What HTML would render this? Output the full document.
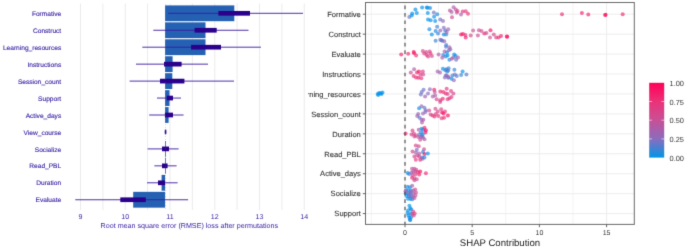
<!DOCTYPE html>
<html><head><meta charset="utf-8"><style>
html,body{margin:0;padding:0;background:#fff;width:685px;height:250px;overflow:hidden}
svg{display:block;font-family:"Liberation Sans",sans-serif;will-change:transform;text-rendering:geometricPrecision}
</style></head><body>
<svg width="685" height="250" viewBox="0 0 685 250">
<filter id="bl" x="0" y="0" width="685" height="250" filterUnits="userSpaceOnUse" color-interpolation-filters="sRGB"><feConvolveMatrix order="3" kernelMatrix="0.01134 0.08382 0.01134 0.08382 0.61935 0.08382 0.01134 0.08382 0.01134" edgeMode="duplicate"/></filter>
<g filter="url(#bl)"><rect width="685" height="250" fill="#fff"/>
<line x1="80.50" y1="3.5" x2="80.50" y2="210" stroke="#e6e6e6" stroke-width="0.8"/>
<line x1="102.88" y1="3.5" x2="102.88" y2="210" stroke="#e6e6e6" stroke-width="0.8"/>
<line x1="125.25" y1="3.5" x2="125.25" y2="210" stroke="#e6e6e6" stroke-width="0.8"/>
<line x1="147.62" y1="3.5" x2="147.62" y2="210" stroke="#e6e6e6" stroke-width="0.8"/>
<line x1="170.00" y1="3.5" x2="170.00" y2="210" stroke="#e6e6e6" stroke-width="0.8"/>
<line x1="192.38" y1="3.5" x2="192.38" y2="210" stroke="#e6e6e6" stroke-width="0.8"/>
<line x1="214.75" y1="3.5" x2="214.75" y2="210" stroke="#e6e6e6" stroke-width="0.8"/>
<line x1="237.12" y1="3.5" x2="237.12" y2="210" stroke="#e6e6e6" stroke-width="0.8"/>
<line x1="259.50" y1="3.5" x2="259.50" y2="210" stroke="#e6e6e6" stroke-width="0.8"/>
<line x1="281.88" y1="3.5" x2="281.88" y2="210" stroke="#e6e6e6" stroke-width="0.8"/>
<line x1="304.25" y1="3.5" x2="304.25" y2="210" stroke="#e6e6e6" stroke-width="0.8"/>
<rect x="165.10" y="5.40" width="69.20" height="15.8" fill="#2561b3"/>
<rect x="165.10" y="22.35" width="40.40" height="15.8" fill="#2561b3"/>
<rect x="165.10" y="39.30" width="40.40" height="15.8" fill="#2561b3"/>
<rect x="165.10" y="56.25" width="7.50" height="15.8" fill="#2561b3"/>
<rect x="165.10" y="73.20" width="7.20" height="15.8" fill="#2561b3"/>
<rect x="165.10" y="90.15" width="4.40" height="15.8" fill="#2561b3"/>
<rect x="165.10" y="107.10" width="3.50" height="15.8" fill="#2561b3"/>
<rect x="165.10" y="141.00" width="0.80" height="15.8" fill="#2561b3"/>
<rect x="165.10" y="157.95" width="0.80" height="15.8" fill="#2561b3"/>
<rect x="161.60" y="174.90" width="3.50" height="15.8" fill="#2561b3"/>
<rect x="133.20" y="191.85" width="31.90" height="15.8" fill="#2561b3"/>
<line x1="168.2" y1="13.30" x2="303.0" y2="13.30" stroke="#3a1aa0" stroke-width="0.9"/>
<rect x="218.4" y="10.95" width="31.60" height="4.7" fill="#2a008c"/>
<line x1="153.3" y1="30.25" x2="248.5" y2="30.25" stroke="#3a1aa0" stroke-width="0.9"/>
<rect x="194.6" y="27.90" width="22.10" height="4.7" fill="#2a008c"/>
<line x1="142.3" y1="47.20" x2="260.9" y2="47.20" stroke="#3a1aa0" stroke-width="0.9"/>
<rect x="191.1" y="44.85" width="29.90" height="4.7" fill="#2a008c"/>
<line x1="136.0" y1="64.15" x2="208.0" y2="64.15" stroke="#3a1aa0" stroke-width="0.9"/>
<rect x="164.0" y="61.80" width="17.60" height="4.7" fill="#2a008c"/>
<line x1="129.6" y1="81.10" x2="234.0" y2="81.10" stroke="#3a1aa0" stroke-width="0.9"/>
<rect x="160.0" y="78.75" width="24.40" height="4.7" fill="#2a008c"/>
<line x1="157.0" y1="98.05" x2="181.0" y2="98.05" stroke="#3a1aa0" stroke-width="0.9"/>
<rect x="166.8" y="95.70" width="6.20" height="4.7" fill="#2a008c"/>
<line x1="149.2" y1="115.00" x2="183.6" y2="115.00" stroke="#3a1aa0" stroke-width="0.9"/>
<rect x="164.9" y="112.65" width="8.10" height="4.7" fill="#2a008c"/>
<line x1="164.8" y1="131.95" x2="166.3" y2="131.95" stroke="#3a1aa0" stroke-width="0.9"/>
<rect x="164.8" y="129.60" width="1.50" height="4.7" fill="#2a008c"/>
<line x1="147.6" y1="148.90" x2="178.6" y2="148.90" stroke="#3a1aa0" stroke-width="0.9"/>
<rect x="162.0" y="146.55" width="7.00" height="4.7" fill="#2a008c"/>
<line x1="154.4" y1="165.85" x2="176.6" y2="165.85" stroke="#3a1aa0" stroke-width="0.9"/>
<rect x="162.0" y="163.50" width="5.60" height="4.7" fill="#2a008c"/>
<line x1="147.0" y1="182.80" x2="177.6" y2="182.80" stroke="#3a1aa0" stroke-width="0.9"/>
<rect x="158.0" y="180.45" width="7.00" height="4.7" fill="#2a008c"/>
<line x1="75.3" y1="199.75" x2="188.1" y2="199.75" stroke="#3a1aa0" stroke-width="0.9"/>
<rect x="120.3" y="197.40" width="25.50" height="4.7" fill="#2a008c"/>
<line x1="165.5" y1="4" x2="165.5" y2="209" stroke="#7060c0" stroke-width="0.8" stroke-dasharray="0.8 2.2" opacity="0.4"/>
<text x="61.2" y="15.90" text-anchor="end" font-size="6.6" fill="#371ea3" stroke="#371ea3" stroke-width="0.12">Formative</text>
<text x="61.2" y="32.85" text-anchor="end" font-size="6.6" fill="#371ea3" stroke="#371ea3" stroke-width="0.12">Construct</text>
<text x="61.2" y="49.80" text-anchor="end" font-size="6.6" fill="#371ea3" stroke="#371ea3" stroke-width="0.12">Learning_resources</text>
<text x="61.2" y="66.75" text-anchor="end" font-size="6.6" fill="#371ea3" stroke="#371ea3" stroke-width="0.12">Instructions</text>
<text x="61.2" y="83.70" text-anchor="end" font-size="6.6" fill="#371ea3" stroke="#371ea3" stroke-width="0.12">Session_count</text>
<text x="61.2" y="100.65" text-anchor="end" font-size="6.6" fill="#371ea3" stroke="#371ea3" stroke-width="0.12">Support</text>
<text x="61.2" y="117.60" text-anchor="end" font-size="6.6" fill="#371ea3" stroke="#371ea3" stroke-width="0.12">Active_days</text>
<text x="61.2" y="134.55" text-anchor="end" font-size="6.6" fill="#371ea3" stroke="#371ea3" stroke-width="0.12">View_course</text>
<text x="61.2" y="151.50" text-anchor="end" font-size="6.6" fill="#371ea3" stroke="#371ea3" stroke-width="0.12">Socialize</text>
<text x="61.2" y="168.45" text-anchor="end" font-size="6.6" fill="#371ea3" stroke="#371ea3" stroke-width="0.12">Read_PBL</text>
<text x="61.2" y="185.40" text-anchor="end" font-size="6.6" fill="#371ea3" stroke="#371ea3" stroke-width="0.12">Duration</text>
<text x="61.2" y="202.35" text-anchor="end" font-size="6.6" fill="#371ea3" stroke="#371ea3" stroke-width="0.12">Evaluate</text>
<text x="80.50" y="219" text-anchor="middle" font-size="7.1" fill="#371ea3">9</text>
<text x="125.25" y="219" text-anchor="middle" font-size="7.1" fill="#371ea3">10</text>
<text x="170.00" y="219" text-anchor="middle" font-size="7.1" fill="#371ea3">11</text>
<text x="214.75" y="219" text-anchor="middle" font-size="7.1" fill="#371ea3">12</text>
<text x="259.50" y="219" text-anchor="middle" font-size="7.1" fill="#371ea3">13</text>
<text x="304.25" y="219" text-anchor="middle" font-size="7.1" fill="#371ea3">14</text>
<text x="189.3" y="228.2" text-anchor="middle" font-size="7.15" fill="#371ea3">Root mean square error (RMSE) loss after permutations</text>
<rect x="365.5" y="2.5" width="268.79999999999995" height="221.9" fill="#fff"/>
<line x1="371.40" y1="2.5" x2="371.40" y2="224.4" stroke="#ebebeb" stroke-width="0.6"/>
<line x1="405.00" y1="2.5" x2="405.00" y2="224.4" stroke="#ebebeb" stroke-width="0.9"/>
<line x1="438.60" y1="2.5" x2="438.60" y2="224.4" stroke="#ebebeb" stroke-width="0.6"/>
<line x1="472.20" y1="2.5" x2="472.20" y2="224.4" stroke="#ebebeb" stroke-width="0.9"/>
<line x1="505.80" y1="2.5" x2="505.80" y2="224.4" stroke="#ebebeb" stroke-width="0.6"/>
<line x1="539.40" y1="2.5" x2="539.40" y2="224.4" stroke="#ebebeb" stroke-width="0.9"/>
<line x1="573.00" y1="2.5" x2="573.00" y2="224.4" stroke="#ebebeb" stroke-width="0.6"/>
<line x1="606.60" y1="2.5" x2="606.60" y2="224.4" stroke="#ebebeb" stroke-width="0.9"/>
<line x1="365.5" y1="14.20" x2="634.3" y2="14.20" stroke="#ebebeb" stroke-width="0.9"/>
<line x1="365.5" y1="34.14" x2="634.3" y2="34.14" stroke="#ebebeb" stroke-width="0.9"/>
<line x1="365.5" y1="54.08" x2="634.3" y2="54.08" stroke="#ebebeb" stroke-width="0.9"/>
<line x1="365.5" y1="74.02" x2="634.3" y2="74.02" stroke="#ebebeb" stroke-width="0.9"/>
<line x1="365.5" y1="93.96" x2="634.3" y2="93.96" stroke="#ebebeb" stroke-width="0.9"/>
<line x1="365.5" y1="113.90" x2="634.3" y2="113.90" stroke="#ebebeb" stroke-width="0.9"/>
<line x1="365.5" y1="133.84" x2="634.3" y2="133.84" stroke="#ebebeb" stroke-width="0.9"/>
<line x1="365.5" y1="153.78" x2="634.3" y2="153.78" stroke="#ebebeb" stroke-width="0.9"/>
<line x1="365.5" y1="173.72" x2="634.3" y2="173.72" stroke="#ebebeb" stroke-width="0.9"/>
<line x1="365.5" y1="193.66" x2="634.3" y2="193.66" stroke="#ebebeb" stroke-width="0.9"/>
<line x1="365.5" y1="213.60" x2="634.3" y2="213.60" stroke="#ebebeb" stroke-width="0.9"/>
<g id="dots"><g fill-opacity="0.66"><circle cx="409.3" cy="17" r="2.0" fill="#6e73c7"/><circle cx="411.7" cy="15.4" r="2.0" fill="#0090ea"/><circle cx="412.2" cy="13.6" r="2.0" fill="#0090ea"/><circle cx="415.4" cy="9.4" r="2.0" fill="#0090ea"/><circle cx="416.8" cy="12.9" r="2.0" fill="#0090ea"/><circle cx="422.1" cy="7.6" r="2.0" fill="#0090ea"/><circle cx="426.7" cy="7.6" r="2.0" fill="#0090ea"/><circle cx="427.7" cy="7.8" r="2.0" fill="#0090ea"/><circle cx="430.1" cy="8.1" r="2.0" fill="#1c89e1"/><circle cx="427.8" cy="12.9" r="2.0" fill="#0090ea"/><circle cx="433.8" cy="12.5" r="2.0" fill="#6e73c7"/><circle cx="437.2" cy="14.3" r="2.0" fill="#1c89e1"/><circle cx="434.1" cy="16.8" r="2.0" fill="#0090ea"/><circle cx="428" cy="19.6" r="2.0" fill="#0090ea"/><circle cx="430.6" cy="20.3" r="2.0" fill="#0090ea"/><circle cx="435.2" cy="20.9" r="2.0" fill="#0090ea"/><circle cx="440.3" cy="19.6" r="2.0" fill="#6e73c7"/><circle cx="443" cy="20.9" r="2.0" fill="#8a6cbe"/><circle cx="449.9" cy="10.4" r="2.0" fill="#c85096"/><circle cx="451.6" cy="11.9" r="2.0" fill="#a361ae"/><circle cx="453.6" cy="7.3" r="2.0" fill="#a361ae"/><circle cx="455.7" cy="9.6" r="2.0" fill="#c85096"/><circle cx="457.5" cy="11.1" r="2.0" fill="#d6448a"/><circle cx="456.9" cy="12.5" r="2.0" fill="#cf4a90"/><circle cx="452" cy="17.2" r="2.0" fill="#d6448a"/><circle cx="461" cy="14.6" r="2.0" fill="#a361ae"/><circle cx="462.7" cy="11.6" r="2.0" fill="#e4387e"/><circle cx="465.7" cy="11.3" r="2.0" fill="#e4387e"/><circle cx="468" cy="13.7" r="2.0" fill="#e4387e"/><circle cx="562" cy="14.3" r="2.0" fill="#ef2872"/><circle cx="581.9" cy="12.9" r="2.0" fill="#f31e6b"/><circle cx="588.3" cy="14.6" r="2.0" fill="#ef2872"/><circle cx="605.2" cy="15.1" r="2.0" fill="#ff0058"/><circle cx="605.6" cy="14.7" r="2.0" fill="#f71465"/><circle cx="622.7" cy="14.3" r="2.0" fill="#ef2872"/><circle cx="429.4" cy="29.2" r="2.0" fill="#1c89e1"/><circle cx="437.1" cy="26.8" r="2.0" fill="#3782d8"/><circle cx="435.6" cy="31.1" r="2.0" fill="#1c89e1"/><circle cx="438" cy="33.5" r="2.0" fill="#3782d8"/><circle cx="431.8" cy="34.5" r="2.0" fill="#0090ea"/><circle cx="440.4" cy="30.6" r="2.0" fill="#9666b6"/><circle cx="443.8" cy="27.8" r="2.0" fill="#8a6cbe"/><circle cx="445.2" cy="30.6" r="2.0" fill="#537ad0"/><circle cx="443.8" cy="34.5" r="2.0" fill="#0090ea"/><circle cx="446.2" cy="34.5" r="2.0" fill="#3782d8"/><circle cx="446.7" cy="32.1" r="2.0" fill="#9666b6"/><circle cx="435.6" cy="40.7" r="2.0" fill="#3782d8"/><circle cx="440.4" cy="39.8" r="2.0" fill="#9666b6"/><circle cx="442.3" cy="40.7" r="2.0" fill="#8a6cbe"/><circle cx="444.3" cy="41.2" r="2.0" fill="#9666b6"/><circle cx="441.4" cy="40.2" r="2.0" fill="#537ad0"/><circle cx="448.2" cy="29.2" r="2.0" fill="#9666b6"/><circle cx="461.1" cy="34.5" r="2.0" fill="#fb0a5e"/><circle cx="463" cy="34" r="2.0" fill="#f71465"/><circle cx="465.4" cy="35" r="2.0" fill="#e4387e"/><circle cx="465.7" cy="37.4" r="2.0" fill="#f31e6b"/><circle cx="470.7" cy="35.4" r="2.0" fill="#cf4a90"/><circle cx="473.1" cy="30.6" r="2.0" fill="#c85096"/><circle cx="477.9" cy="35.4" r="2.0" fill="#c85096"/><circle cx="478.9" cy="30.2" r="2.0" fill="#c85096"/><circle cx="481.5" cy="31.1" r="2.0" fill="#cf4a90"/><circle cx="484.3" cy="33.5" r="2.0" fill="#ef2872"/><circle cx="486.4" cy="33" r="2.0" fill="#cf4a90"/><circle cx="490.5" cy="30.2" r="2.0" fill="#f71465"/><circle cx="490" cy="37.4" r="2.0" fill="#c85096"/><circle cx="493.8" cy="34.5" r="2.0" fill="#d6448a"/><circle cx="496.2" cy="37.4" r="2.0" fill="#e4387e"/><circle cx="498.6" cy="37.4" r="2.0" fill="#eb3278"/><circle cx="501" cy="35.9" r="2.0" fill="#f31e6b"/><circle cx="506.8" cy="36.4" r="2.0" fill="#fb0a5e"/><circle cx="507.3" cy="36.7" r="2.0" fill="#f71465"/><circle cx="401.2" cy="54.5" r="2.0" fill="#f31e6b"/><circle cx="408.2" cy="53.7" r="2.0" fill="#eb3278"/><circle cx="413.7" cy="52.1" r="2.0" fill="#fb0a5e"/><circle cx="414.2" cy="53.3" r="2.0" fill="#f71465"/><circle cx="416.1" cy="55.4" r="2.0" fill="#eb3278"/><circle cx="422.8" cy="51.1" r="2.0" fill="#d6448a"/><circle cx="424.3" cy="53.5" r="2.0" fill="#dd3e84"/><circle cx="426.2" cy="52.1" r="2.0" fill="#d6448a"/><circle cx="426.7" cy="55" r="2.0" fill="#e4387e"/><circle cx="428.1" cy="56.4" r="2.0" fill="#dd3e84"/><circle cx="429.7" cy="51.6" r="2.0" fill="#d6448a"/><circle cx="430.5" cy="53.5" r="2.0" fill="#dd3e84"/><circle cx="431.9" cy="55.9" r="2.0" fill="#d6448a"/><circle cx="438.6" cy="54.4" r="2.0" fill="#af5ba6"/><circle cx="446" cy="46.8" r="2.0" fill="#6e73c7"/><circle cx="449.4" cy="47.3" r="2.0" fill="#9666b6"/><circle cx="450.4" cy="49.2" r="2.0" fill="#9666b6"/><circle cx="448.9" cy="50.2" r="2.0" fill="#8a6cbe"/><circle cx="444.6" cy="51.6" r="2.0" fill="#af5ba6"/><circle cx="447" cy="52.6" r="2.0" fill="#1c89e1"/><circle cx="443.2" cy="55" r="2.0" fill="#1c89e1"/><circle cx="445.6" cy="56.4" r="2.0" fill="#3782d8"/><circle cx="442.2" cy="57.8" r="2.0" fill="#af5ba6"/><circle cx="447.5" cy="55.4" r="2.0" fill="#0090ea"/><circle cx="449.4" cy="59.8" r="2.0" fill="#1c89e1"/><circle cx="454.2" cy="54.5" r="2.0" fill="#0090ea"/><circle cx="455.6" cy="55.9" r="2.0" fill="#0090ea"/><circle cx="453.2" cy="57.4" r="2.0" fill="#6e73c7"/><circle cx="456.1" cy="59.8" r="2.0" fill="#6e73c7"/><circle cx="458" cy="57.4" r="2.0" fill="#af5ba6"/><circle cx="451.8" cy="58.8" r="2.0" fill="#c85096"/><circle cx="446.2" cy="45" r="2.0" fill="#3782d8"/><circle cx="414.1" cy="69.2" r="2.0" fill="#af5ba6"/><circle cx="410.8" cy="72.6" r="2.0" fill="#cf4a90"/><circle cx="413.6" cy="75.9" r="2.0" fill="#e4387e"/><circle cx="417" cy="72.6" r="2.0" fill="#ef2872"/><circle cx="418.9" cy="71.6" r="2.0" fill="#f71465"/><circle cx="422.8" cy="71.6" r="2.0" fill="#dd3e84"/><circle cx="420.4" cy="74.5" r="2.0" fill="#d6448a"/><circle cx="423.2" cy="74.5" r="2.0" fill="#cf4a90"/><circle cx="416" cy="77.4" r="2.0" fill="#eb3278"/><circle cx="418.4" cy="77.8" r="2.0" fill="#ef2872"/><circle cx="421.3" cy="78.3" r="2.0" fill="#eb3278"/><circle cx="437.6" cy="71.6" r="2.0" fill="#a361ae"/><circle cx="440" cy="72.6" r="2.0" fill="#a361ae"/><circle cx="442.9" cy="68.7" r="2.0" fill="#0090ea"/><circle cx="446.3" cy="69.2" r="2.0" fill="#3782d8"/><circle cx="447.2" cy="71.6" r="2.0" fill="#1c89e1"/><circle cx="445.8" cy="75.4" r="2.0" fill="#6e73c7"/><circle cx="444.8" cy="77.4" r="2.0" fill="#8a6cbe"/><circle cx="448.2" cy="77.8" r="2.0" fill="#6e73c7"/><circle cx="445.3" cy="70.2" r="2.0" fill="#3782d8"/><circle cx="448.6" cy="68.2" r="2.0" fill="#3782d8"/><circle cx="448.2" cy="70.6" r="2.0" fill="#537ad0"/><circle cx="454.4" cy="69.7" r="2.0" fill="#3782d8"/><circle cx="446.7" cy="75.4" r="2.0" fill="#9666b6"/><circle cx="448.6" cy="76.9" r="2.0" fill="#9666b6"/><circle cx="452.5" cy="75.4" r="2.0" fill="#3782d8"/><circle cx="454.9" cy="74.5" r="2.0" fill="#6e73c7"/><circle cx="456.8" cy="75.9" r="2.0" fill="#537ad0"/><circle cx="451.5" cy="78.8" r="2.0" fill="#0090ea"/><circle cx="453.9" cy="80.2" r="2.0" fill="#9666b6"/><circle cx="462.6" cy="71.6" r="2.0" fill="#0090ea"/><circle cx="461.1" cy="75" r="2.0" fill="#3782d8"/><circle cx="466.4" cy="74.5" r="2.0" fill="#537ad0"/><circle cx="377.7" cy="94" r="2.0" fill="#0090ea"/><circle cx="379.1" cy="93" r="2.0" fill="#0090ea"/><circle cx="380.6" cy="93.3" r="2.0" fill="#0090ea"/><circle cx="382.5" cy="92.6" r="2.0" fill="#0090ea"/><circle cx="378.2" cy="95" r="2.0" fill="#0090ea"/><circle cx="381.5" cy="94" r="2.0" fill="#0090ea"/><circle cx="423.6" cy="89.7" r="2.0" fill="#6e73c7"/><circle cx="421.7" cy="92.1" r="2.0" fill="#6e73c7"/><circle cx="420.8" cy="94.5" r="2.0" fill="#6e73c7"/><circle cx="425.1" cy="96.4" r="2.0" fill="#a361ae"/><circle cx="428" cy="93.5" r="2.0" fill="#8a6cbe"/><circle cx="429.9" cy="89.2" r="2.0" fill="#8a6cbe"/><circle cx="434.2" cy="89.7" r="2.0" fill="#f31e6b"/><circle cx="434.7" cy="92.1" r="2.0" fill="#c85096"/><circle cx="432.8" cy="96.4" r="2.0" fill="#af5ba6"/><circle cx="435.2" cy="95.4" r="2.0" fill="#a361ae"/><circle cx="436.6" cy="99.3" r="2.0" fill="#d6448a"/><circle cx="440.4" cy="100.2" r="2.0" fill="#eb3278"/><circle cx="442.8" cy="98.8" r="2.0" fill="#ef2872"/><circle cx="440.4" cy="91.6" r="2.0" fill="#ef2872"/><circle cx="443.3" cy="92.1" r="2.0" fill="#ef2872"/><circle cx="446.7" cy="88.7" r="2.0" fill="#e4387e"/><circle cx="445.7" cy="93.5" r="2.0" fill="#eb3278"/><circle cx="447.6" cy="94" r="2.0" fill="#dd3e84"/><circle cx="451" cy="91.1" r="2.0" fill="#e4387e"/><circle cx="453.4" cy="93.5" r="2.0" fill="#d6448a"/><circle cx="447.6" cy="99.3" r="2.0" fill="#e4387e"/><circle cx="449.5" cy="98.3" r="2.0" fill="#eb3278"/><circle cx="451.5" cy="96.9" r="2.0" fill="#dd3e84"/><circle cx="440.2" cy="102" r="2.0" fill="#d6448a"/><circle cx="419.1" cy="108.2" r="2.0" fill="#0090ea"/><circle cx="421.5" cy="106.3" r="2.0" fill="#9666b6"/><circle cx="424.4" cy="107.8" r="2.0" fill="#6e73c7"/><circle cx="425.8" cy="110.2" r="2.0" fill="#6e73c7"/><circle cx="425.4" cy="112.1" r="2.0" fill="#8a6cbe"/><circle cx="423" cy="113.5" r="2.0" fill="#9666b6"/><circle cx="418.2" cy="114" r="2.0" fill="#9666b6"/><circle cx="417.2" cy="115.9" r="2.0" fill="#a361ae"/><circle cx="419.6" cy="117.8" r="2.0" fill="#537ad0"/><circle cx="421.5" cy="119.8" r="2.0" fill="#9666b6"/><circle cx="423.4" cy="119.8" r="2.0" fill="#af5ba6"/><circle cx="429.2" cy="110.6" r="2.0" fill="#d6448a"/><circle cx="430.6" cy="114.5" r="2.0" fill="#d6448a"/><circle cx="432.6" cy="115.4" r="2.0" fill="#e4387e"/><circle cx="434.5" cy="116.4" r="2.0" fill="#eb3278"/><circle cx="435.9" cy="114" r="2.0" fill="#dd3e84"/><circle cx="435.4" cy="108.7" r="2.0" fill="#cf4a90"/><circle cx="437.8" cy="111.6" r="2.0" fill="#d6448a"/><circle cx="438.3" cy="115.9" r="2.0" fill="#e4387e"/><circle cx="441.2" cy="109.2" r="2.0" fill="#d6448a"/><circle cx="442.1" cy="112.6" r="2.0" fill="#fb0a5e"/><circle cx="443.6" cy="113.5" r="2.0" fill="#f71465"/><circle cx="445" cy="111.6" r="2.0" fill="#e4387e"/><circle cx="441.7" cy="118.3" r="2.0" fill="#dd3e84"/><circle cx="444.1" cy="117.8" r="2.0" fill="#eb3278"/><circle cx="447.9" cy="115.4" r="2.0" fill="#fb0a5e"/><circle cx="405.6" cy="133.5" r="2.0" fill="#ef2872"/><circle cx="412.5" cy="130.6" r="2.0" fill="#d6448a"/><circle cx="411.5" cy="134.5" r="2.0" fill="#d6448a"/><circle cx="413.9" cy="133.5" r="2.0" fill="#d6448a"/><circle cx="415.8" cy="135.4" r="2.0" fill="#cf4a90"/><circle cx="414.4" cy="136.4" r="2.0" fill="#d6448a"/><circle cx="418.7" cy="129.7" r="2.0" fill="#af5ba6"/><circle cx="421.6" cy="128.7" r="2.0" fill="#0090ea"/><circle cx="423" cy="129.7" r="2.0" fill="#1c89e1"/><circle cx="424.5" cy="127.8" r="2.0" fill="#ef2872"/><circle cx="425.9" cy="130.2" r="2.0" fill="#ff0058"/><circle cx="425.4" cy="132.6" r="2.0" fill="#f71465"/><circle cx="421.1" cy="132.6" r="2.0" fill="#1c89e1"/><circle cx="422.6" cy="134.5" r="2.0" fill="#0090ea"/><circle cx="419.2" cy="134.5" r="2.0" fill="#6e73c7"/><circle cx="422" cy="136.2" r="2.0" fill="#3782d8"/><circle cx="418.2" cy="136.9" r="2.0" fill="#bc569e"/><circle cx="420.6" cy="136.9" r="2.0" fill="#9666b6"/><circle cx="423" cy="137.4" r="2.0" fill="#a361ae"/><circle cx="420.2" cy="139.8" r="2.0" fill="#c85096"/><circle cx="424.5" cy="139.3" r="2.0" fill="#af5ba6"/><circle cx="422" cy="122.5" r="2.0" fill="#af5ba6"/><circle cx="415.8" cy="145.4" r="2.0" fill="#d6448a"/><circle cx="418.7" cy="146.3" r="2.0" fill="#d6448a"/><circle cx="416.8" cy="149.7" r="2.0" fill="#6e73c7"/><circle cx="412.5" cy="151.6" r="2.0" fill="#d6448a"/><circle cx="415.8" cy="152.6" r="2.0" fill="#9666b6"/><circle cx="424" cy="149.2" r="2.0" fill="#d6448a"/><circle cx="423" cy="152.1" r="2.0" fill="#1c89e1"/><circle cx="424.5" cy="154" r="2.0" fill="#f71465"/><circle cx="427.8" cy="153.5" r="2.0" fill="#0090ea"/><circle cx="414.4" cy="156.4" r="2.0" fill="#d6448a"/><circle cx="417.3" cy="155.4" r="2.0" fill="#c85096"/><circle cx="419.2" cy="156.4" r="2.0" fill="#e4387e"/><circle cx="422.1" cy="157.4" r="2.0" fill="#3782d8"/><circle cx="424.5" cy="157.4" r="2.0" fill="#1c89e1"/><circle cx="415.8" cy="159.8" r="2.0" fill="#e4387e"/><circle cx="420.2" cy="159.8" r="2.0" fill="#ef2872"/><circle cx="422.6" cy="158.8" r="2.0" fill="#9666b6"/><circle cx="419.2" cy="153.5" r="2.0" fill="#af5ba6"/><circle cx="407.7" cy="173" r="2.0" fill="#0090ea"/><circle cx="409.1" cy="174" r="2.0" fill="#3782d8"/><circle cx="412" cy="168.7" r="2.0" fill="#c85096"/><circle cx="414.4" cy="168.7" r="2.0" fill="#c85096"/><circle cx="416.3" cy="169.7" r="2.0" fill="#c85096"/><circle cx="411.5" cy="172.6" r="2.0" fill="#9666b6"/><circle cx="413.4" cy="171.6" r="2.0" fill="#bc569e"/><circle cx="415.4" cy="171.6" r="2.0" fill="#bc569e"/><circle cx="417.8" cy="172.1" r="2.0" fill="#e4387e"/><circle cx="420.2" cy="171.6" r="2.0" fill="#fb0a5e"/><circle cx="412.5" cy="175" r="2.0" fill="#cf4a90"/><circle cx="415.4" cy="174.5" r="2.0" fill="#d6448a"/><circle cx="419.2" cy="174.5" r="2.0" fill="#f31e6b"/><circle cx="412" cy="177.8" r="2.0" fill="#eb3278"/><circle cx="414.4" cy="178.3" r="2.0" fill="#d6448a"/><circle cx="416.8" cy="179.3" r="2.0" fill="#c85096"/><circle cx="414.4" cy="180.2" r="2.0" fill="#cf4a90"/><circle cx="425.9" cy="173.3" r="2.0" fill="#ef2872"/><circle cx="407.5" cy="186.8" r="2.0" fill="#1c89e1"/><circle cx="410" cy="187.3" r="2.0" fill="#0090ea"/><circle cx="406" cy="190" r="2.0" fill="#3782d8"/><circle cx="408.5" cy="190.5" r="2.0" fill="#0090ea"/><circle cx="411" cy="190.8" r="2.0" fill="#1c89e1"/><circle cx="405.8" cy="193.2" r="2.0" fill="#0090ea"/><circle cx="408.3" cy="193.5" r="2.0" fill="#1c89e1"/><circle cx="410.8" cy="193.5" r="2.0" fill="#3782d8"/><circle cx="406.5" cy="196" r="2.0" fill="#0090ea"/><circle cx="409" cy="196.3" r="2.0" fill="#1c89e1"/><circle cx="411.3" cy="196.5" r="2.0" fill="#3782d8"/><circle cx="408" cy="198.8" r="2.0" fill="#0090ea"/><circle cx="410.5" cy="199" r="2.0" fill="#0090ea"/><circle cx="412.3" cy="199.3" r="2.0" fill="#3782d8"/><circle cx="412.2" cy="185.8" r="2.0" fill="#a361ae"/><circle cx="413.2" cy="190.5" r="2.0" fill="#af5ba6"/><circle cx="413.5" cy="193.5" r="2.0" fill="#9666b6"/><circle cx="413" cy="196.5" r="2.0" fill="#a361ae"/><circle cx="405.5" cy="191.3" r="2.0" fill="#bc569e"/><circle cx="415.2" cy="189.5" r="2.0" fill="#c85096"/><circle cx="416" cy="192.5" r="2.0" fill="#cf4a90"/><circle cx="415.5" cy="195.5" r="2.0" fill="#bc569e"/><circle cx="414.5" cy="198" r="2.0" fill="#bc569e"/><circle cx="410.3" cy="192" r="2.0" fill="#9666b6"/><circle cx="409.5" cy="195" r="2.0" fill="#8a6cbe"/><circle cx="409.4" cy="205.8" r="2.0" fill="#0090ea"/><circle cx="410.4" cy="208.2" r="2.0" fill="#0090ea"/><circle cx="408" cy="210.6" r="2.0" fill="#0090ea"/><circle cx="407.5" cy="213" r="2.0" fill="#0090ea"/><circle cx="408.4" cy="215.4" r="2.0" fill="#0090ea"/><circle cx="409.4" cy="217.8" r="2.0" fill="#0090ea"/><circle cx="409.9" cy="219.7" r="2.0" fill="#1c89e1"/><circle cx="410.8" cy="213.5" r="2.0" fill="#0090ea"/><circle cx="411.2" cy="209.5" r="2.0" fill="#0090ea"/><circle cx="411" cy="217.2" r="2.0" fill="#0090ea"/><circle cx="410.3" cy="220" r="2.0" fill="#1c89e1"/><circle cx="413.2" cy="211.6" r="2.0" fill="#d6448a"/><circle cx="414.7" cy="213.5" r="2.0" fill="#dd3e84"/><circle cx="413.7" cy="215.4" r="2.0" fill="#d6448a"/><circle cx="412.3" cy="214" r="2.0" fill="#cf4a90"/></g></g>
<line x1="405.0" y1="2.5" x2="405.0" y2="224.4" stroke="#444" stroke-width="1.1" stroke-dasharray="3.6 3.85" stroke-dashoffset="4.35"/>
<rect x="365.5" y="2.5" width="268.79999999999995" height="221.9" fill="none" stroke="#6b6b6b" stroke-width="1"/>
<line x1="362.8" y1="14.20" x2="365.5" y2="14.20" stroke="#555" stroke-width="0.9"/>
<text x="360.8" y="16.95" text-anchor="end" font-size="7.55" fill="#383838" stroke="#383838" stroke-width="0.12" clip-path="url(#rc)">Formative</text>
<line x1="362.8" y1="34.14" x2="365.5" y2="34.14" stroke="#555" stroke-width="0.9"/>
<text x="360.8" y="36.89" text-anchor="end" font-size="7.55" fill="#383838" stroke="#383838" stroke-width="0.12" clip-path="url(#rc)">Construct</text>
<line x1="362.8" y1="54.08" x2="365.5" y2="54.08" stroke="#555" stroke-width="0.9"/>
<text x="360.8" y="56.83" text-anchor="end" font-size="7.55" fill="#383838" stroke="#383838" stroke-width="0.12" clip-path="url(#rc)">Evaluate</text>
<line x1="362.8" y1="74.02" x2="365.5" y2="74.02" stroke="#555" stroke-width="0.9"/>
<text x="360.8" y="76.77" text-anchor="end" font-size="7.55" fill="#383838" stroke="#383838" stroke-width="0.12" clip-path="url(#rc)">Instructions</text>
<line x1="362.8" y1="93.96" x2="365.5" y2="93.96" stroke="#555" stroke-width="0.9"/>
<text x="360.8" y="96.71" text-anchor="end" font-size="7.55" fill="#383838" stroke="#383838" stroke-width="0.12" clip-path="url(#rc)">Learning_resources</text>
<line x1="362.8" y1="113.90" x2="365.5" y2="113.90" stroke="#555" stroke-width="0.9"/>
<text x="360.8" y="116.65" text-anchor="end" font-size="7.55" fill="#383838" stroke="#383838" stroke-width="0.12" clip-path="url(#rc)">Session_count</text>
<line x1="362.8" y1="133.84" x2="365.5" y2="133.84" stroke="#555" stroke-width="0.9"/>
<text x="360.8" y="136.59" text-anchor="end" font-size="7.55" fill="#383838" stroke="#383838" stroke-width="0.12" clip-path="url(#rc)">Duration</text>
<line x1="362.8" y1="153.78" x2="365.5" y2="153.78" stroke="#555" stroke-width="0.9"/>
<text x="360.8" y="156.53" text-anchor="end" font-size="7.55" fill="#383838" stroke="#383838" stroke-width="0.12" clip-path="url(#rc)">Read_PBL</text>
<line x1="362.8" y1="173.72" x2="365.5" y2="173.72" stroke="#555" stroke-width="0.9"/>
<text x="360.8" y="176.47" text-anchor="end" font-size="7.55" fill="#383838" stroke="#383838" stroke-width="0.12" clip-path="url(#rc)">Active_days</text>
<line x1="362.8" y1="193.66" x2="365.5" y2="193.66" stroke="#555" stroke-width="0.9"/>
<text x="360.8" y="196.41" text-anchor="end" font-size="7.55" fill="#383838" stroke="#383838" stroke-width="0.12" clip-path="url(#rc)">Socialize</text>
<line x1="362.8" y1="213.60" x2="365.5" y2="213.60" stroke="#555" stroke-width="0.9"/>
<text x="360.8" y="216.35" text-anchor="end" font-size="7.55" fill="#383838" stroke="#383838" stroke-width="0.12" clip-path="url(#rc)">Support</text>
<line x1="405.00" y1="224.4" x2="405.00" y2="227.2" stroke="#555" stroke-width="0.9"/>
<text x="405.00" y="234.8" text-anchor="middle" font-size="7" fill="#383838">0</text>
<line x1="472.20" y1="224.4" x2="472.20" y2="227.2" stroke="#555" stroke-width="0.9"/>
<text x="472.20" y="234.8" text-anchor="middle" font-size="7" fill="#383838">5</text>
<line x1="539.40" y1="224.4" x2="539.40" y2="227.2" stroke="#555" stroke-width="0.9"/>
<text x="539.40" y="234.8" text-anchor="middle" font-size="7" fill="#383838">10</text>
<line x1="606.60" y1="224.4" x2="606.60" y2="227.2" stroke="#555" stroke-width="0.9"/>
<text x="606.60" y="234.8" text-anchor="middle" font-size="7" fill="#383838">15</text>
<text x="500" y="246.3" text-anchor="middle" font-size="9.6" fill="#222">SHAP Contribution</text>
<defs><clipPath id="rc"><rect x="308" y="0" width="400" height="250"/></clipPath><linearGradient id="lg" x1="0" y1="0" x2="0" y2="1"><stop offset="0" stop-color="#ff0058"/><stop offset="0.25" stop-color="#eb3278"/><stop offset="0.5" stop-color="#c85096"/><stop offset="0.75" stop-color="#8a6cbe"/><stop offset="1" stop-color="#0096e6"/></linearGradient></defs>
<rect x="649.2" y="82.8" width="15" height="74.8" fill="url(#lg)"/>
<text x="669.6" y="85.80" font-size="7.4" fill="#383838">1.00</text>
<line x1="649.2" y1="101.50" x2="652" y2="101.50" stroke="#fff" stroke-width="0.8" opacity="0.7"/>
<line x1="661.4" y1="101.50" x2="664.2" y2="101.50" stroke="#fff" stroke-width="0.8" opacity="0.7"/>
<text x="669.6" y="104.50" font-size="7.4" fill="#383838">0.75</text>
<line x1="649.2" y1="120.20" x2="652" y2="120.20" stroke="#fff" stroke-width="0.8" opacity="0.7"/>
<line x1="661.4" y1="120.20" x2="664.2" y2="120.20" stroke="#fff" stroke-width="0.8" opacity="0.7"/>
<text x="669.6" y="123.20" font-size="7.4" fill="#383838">0.50</text>
<line x1="649.2" y1="138.90" x2="652" y2="138.90" stroke="#fff" stroke-width="0.8" opacity="0.7"/>
<line x1="661.4" y1="138.90" x2="664.2" y2="138.90" stroke="#fff" stroke-width="0.8" opacity="0.7"/>
<text x="669.6" y="141.90" font-size="7.4" fill="#383838">0.25</text>
<text x="669.6" y="160.60" font-size="7.4" fill="#383838">0.00</text>
</g>
</svg></body></html>
